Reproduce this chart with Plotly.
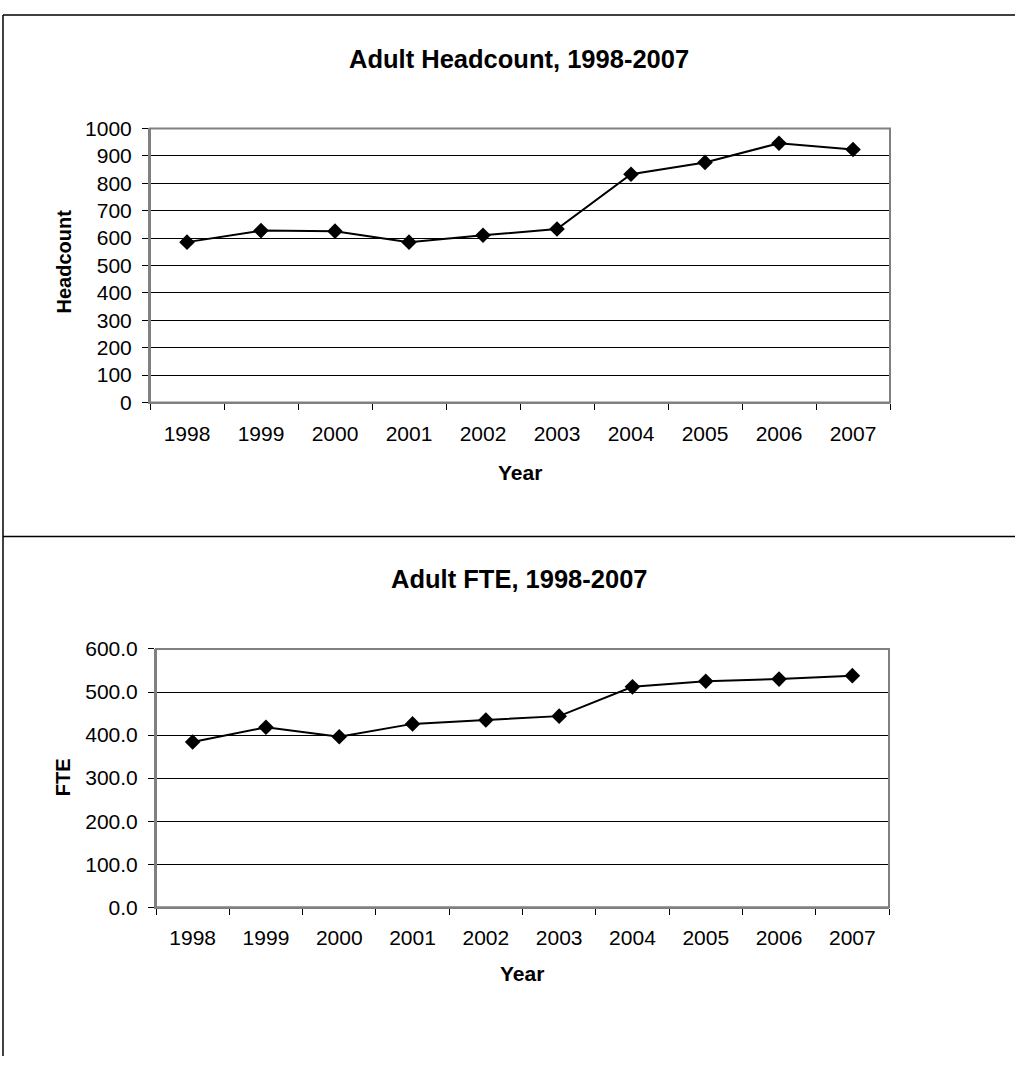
import plotly.graph_objects as go

years = ["1998", "1999", "2000", "2001", "2002", "2003", "2004", "2005", "2006", "2007"]
headcount = [585, 627, 625, 585, 610, 633, 833, 876, 946, 923]
fte = [384, 418, 396, 426, 435, 444, 512, 525, 530, 538]

W, H = 1015, 1067
FONT = "Liberation Sans, Arial, sans-serif"


def px_x(x):
    return x / W


def px_y(y):
    return 1 - y / H


fig = go.Figure()

line_style = dict(color="black", width=2)
marker_style = dict(symbol="diamond", size=12, color="black")

fig.add_trace(go.Scatter(x=years, y=headcount, mode="lines+markers",
                         line=line_style, marker=marker_style,
                         xaxis="x", yaxis="y", showlegend=False))
fig.add_trace(go.Scatter(x=years, y=fte, mode="lines+markers",
                         line=line_style, marker=marker_style,
                         xaxis="x2", yaxis="y2", showlegend=False))

xaxis_common = dict(
    type="category", range=[-0.5, 9.5], tickson="boundaries",
    ticks="outside", ticklen=6, tickcolor="black", tickwidth=1,
    showline=True, linecolor="#808080", linewidth=2,
    showgrid=False, zeroline=False, ticklabelstandoff=11,
    tickfont=dict(size=21, color="black"),
)
yaxis_common = dict(
    ticks="outside", ticklen=6, tickcolor="black", tickwidth=1,
    showline=True, linecolor="#808080", linewidth=2,
    showgrid=True, gridcolor="black", gridwidth=1, zeroline=False,
    ticklabelstandoff=6, tickfont=dict(size=21, color="black"),
)

fig.update_layout(
    width=W, height=H,
    margin=dict(l=0, r=0, t=0, b=0),
    paper_bgcolor="white", plot_bgcolor="white",
    font=dict(family=FONT, color="black"),
    hovermode=False,
    xaxis=dict(xaxis_common, domain=[px_x(150), px_x(890)], anchor="y"),
    yaxis=dict(yaxis_common, domain=[px_y(399), px_y(119)], anchor="x",
               range=[0, 1000], dtick=100),
    xaxis2=dict(xaxis_common, domain=[px_x(156), px_x(889)], anchor="y2"),
    yaxis2=dict(yaxis_common, domain=[px_y(915), px_y(651)], anchor="x2",
                range=[0, 600], dtick=100, tickformat=".1f"),
)

# chart titles and axis titles
labels = [
    ("<b>Adult Headcount, 1998-2007</b>", 519, 48, 25.5, 0),
    ("<b>Year</b>", 520, 471, 21, 0),
    ("<b>Headcount</b>", 64, 255, 20, -90),
    ("<b>Adult FTE, 1998-2007</b>", 519, 580, 25.5, 0),
    ("<b>Year</b>", 522, 983, 21, 0),
    ("<b>FTE</b>", 63, 782, 20, -90),
]
for text, x, y, size, angle in labels:
    fig.add_annotation(text=text, x=px_x(x), y=px_y(y), xref="paper", yref="paper",
                       xanchor="center", yanchor="middle", showarrow=False,
                       textangle=angle, font=dict(size=size))

shapes = [
    # plot area borders (grey top/right)
    dict(type="rect", xref="paper", yref="paper",
         x0=px_x(150), x1=px_x(890), y0=px_y(399), y1=px_y(119),
         line=dict(color="#808080", width=2)),
    dict(type="rect", xref="paper", yref="paper",
         x0=px_x(156), x1=px_x(889), y0=px_y(915), y1=px_y(651),
         line=dict(color="#808080", width=2)),
    # outer chart frames
    dict(type="line", xref="paper", yref="paper", x0=px_x(3), x1=1,
         y0=px_y(3), y1=px_y(3), line=dict(color="black", width=1.5)),
    dict(type="line", xref="paper", yref="paper", x0=px_x(3), x1=1,
         y0=px_y(536), y1=px_y(536), line=dict(color="black", width=1.5)),
    dict(type="line", xref="paper", yref="paper", x0=px_x(3), x1=px_x(3),
         y0=0, y1=px_y(3), line=dict(color="black", width=1.5)),
]
fig.update_layout(shapes=shapes)

fig.write_html("out.html", config={"displayModeBar": False},
               post_script="document.body.style.margin='0';")
